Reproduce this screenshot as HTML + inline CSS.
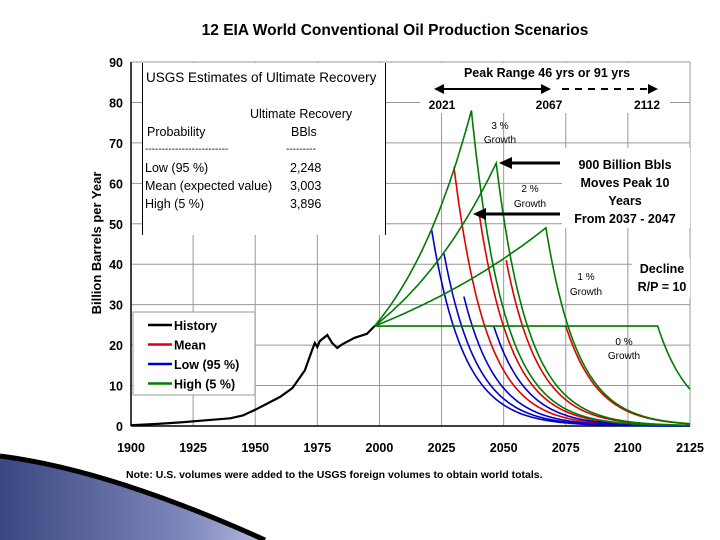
<!DOCTYPE html>
<html><head><meta charset="utf-8"><style>
body{margin:0;background:#fff;width:720px;height:540px;overflow:hidden;font-family:"Liberation Sans",Arial,sans-serif}
svg{display:block}
</style></head><body>
<svg id="c" width="720" height="540">
<defs><linearGradient id="bg" x1="0" y1="0" x2="1" y2="0"><stop offset="0" stop-color="#3a4780"/><stop offset="0.7" stop-color="#7f87bd"/><stop offset="1" stop-color="#b5badb"/></linearGradient></defs>
<path d="M0,456 Q110,470 265,540 L0,540Z" fill="url(#bg)"/>
<path d="M0,456 Q110,470 265,540" fill="none" stroke="#000" stroke-width="5"/>
<text x="395" y="35" text-anchor="middle" font-weight="bold" font-size="15.5">12 EIA World Conventional Oil Production Scenarios</text>
<text transform="translate(101,243) rotate(-90)" text-anchor="middle" font-weight="bold" font-size="13">Billion Barrels per Year</text>
<text x="126" y="478" font-weight="bold" font-size="10.5">Note:  U.S. volumes were added to the USGS foreign volumes to obtain world totals.</text>
<g id="grid"></g>
<g id="series"></g>
<g id="annot"></g>
</svg>
<script>
const yTicks=[0,10,20,30,40,50,60,70,80,90];
const xTicks=[1900,1925,1950,1975,2000,2025,2050,2075,2100,2125];
const histYears=[1900,1910,1920,1930,1940,1945,1950,1955,1960,1965,1970,1973,1974,1975,1976,1979,1981,1983,1985,1990,1995,1998];
const histValues=[0.2,0.5,0.9,1.4,1.9,2.6,4,5.6,7.2,9.4,13.8,19,20.5,19.5,21,22.5,20.5,19.3,20.2,21.8,22.8,24.7];
const baseYear=1998, baseValue=24.7;
const growthRates=[3,2,1,0];
const highPeakYears=[2037,2047,2067,2112];
const highPeakValues=[78,65,49,24.7];
const meanPeakYears=[2030,2040,2051,2075];
const meanPeakValues=[64,53,41,24.7];
const lowPeakYears=[2021,2026,2034,2046];
const lowPeakValues=[48.5,42.6,32,24.7];
const declineTau=13;
const X0=131,X1=690,Y0=426,Y1=62;
const xs=y=>X0+(y-1900)/(2125-1900)*(X1-X0);
const ys=v=>Y0-v/90*(Y0-Y1);
const NS='http://www.w3.org/2000/svg';
function mk(tag,attrs,parent){const e=document.createElementNS(NS,tag);for(const k in attrs)e.setAttribute(k,attrs[k]);parent.appendChild(e);return e;}
const grid=document.getElementById('grid'),ser=document.getElementById('series'),an=document.getElementById('annot');
yTicks.forEach(v=>{
 const l=mk('line',{x1:X0,x2:X1,y1:ys(v),y2:ys(v),stroke:'#999','stroke-width':1},grid);
 
 
 const t=mk('text',{x:X0-8,y:ys(v)+5,'text-anchor':'end','font-size':'12.5','font-weight':'bold'},grid);t.textContent=v;
 
 
});
xTicks.forEach(v=>{
 const l=mk('line',{x1:xs(v),x2:xs(v),y1:Y1,y2:Y0,stroke:'#999','stroke-width':1},grid);
 
 
 const t=mk('text',{x:xs(v),y:Y0+26,'text-anchor':'middle','font-size':'12.5','font-weight':'bold'},grid);t.textContent=v;
 
 
});
mk('line',{x1:X0,x2:X1,y1:Y0,y2:Y0,stroke:'#000','stroke-width':1.5},grid);
mk('line',{x1:X0,x2:X0,y1:Y1,y2:Y0,stroke:'#000','stroke-width':1.5},grid);
const b1=mk('rect',{x:142,y:63,width:243,height:172,fill:'#fff'},grid);


mk('line',{x1:142.5,x2:142.5,y1:63,y2:235,stroke:'#000'},grid);
mk('line',{x1:385.5,x2:385.5,y1:63,y2:235,stroke:'#000'},grid);
const b2=mk('rect',{x:562,y:148,width:128,height:80,fill:'#fff'},grid);


mk('rect',{x:420,y:63,width:250,height:50,fill:'#fff'},grid);
mk('rect',{x:632,y:258,width:58,height:40,fill:'#fff'},grid);
function scen(i,py,pv,color,full){
 const pts=[];
 const g=Math.log(pv/baseValue)/Math.max(py-baseYear,1);
 const start=full?baseYear:py;
 for(let y=start;y<=py;y+=1)pts.push([y,baseValue*Math.exp(g*(y-baseYear))]);
 pts.push([py,pv]);
 for(let y=py+0.5;y<=2125;y+=0.5)pts.push([y,pv*Math.exp(-(y-py)/declineTau)]);
 return mk('polyline',{points:pts.map(q=>xs(q[0]).toFixed(1)+','+ys(q[1]).toFixed(1)).join(' '),fill:'none',stroke:color,'stroke-width':1.6},ser);
}
growthRates.forEach((r,i)=>{
 const a=scen(i,lowPeakYears[i],lowPeakValues[i],'#0000cc',false);
 
 
 const b=scen(i,meanPeakYears[i],meanPeakValues[i],'#e00000',false);
 
 
});
growthRates.forEach((r,i)=>{
 const c=scen(i,highPeakYears[i],highPeakValues[i],'#007a00',true);
 
 
});
const h=mk('polyline',{points:histYears.map((y,i)=>xs(y).toFixed(1)+','+ys(histValues[i]).toFixed(1)).join(' '),fill:'none',stroke:'#000','stroke-width':2.2},ser);


function txt(x,y,s,size,bold,anchor,name){const t=mk('text',{x:x,y:y,'font-size':size,'font-weight':bold?'bold':'normal','text-anchor':anchor||'start'},an);t.textContent=s;
 
 return t;}
txt(146,82,'USGS Estimates of Ultimate Recovery',13.5,false,'start','usgs-title');
txt(250,118,'Ultimate Recovery',12.5,false,'start','col-header');
txt(147,136,'Probability',12.5,false,'start','col-header');
txt(291,136,'BBls',12.5,false,'start','col-header');
txt(145,152,'-------------------------',10,false,'start','divider');
txt(286,152,'---------',10,false,'start','divider');
const rows=[['Low (95 %)','2,248'],['Mean (expected value)','3,003'],['High (5 %)','3,896']];
rows.forEach((r,i)=>{txt(145,172+i*18,r[0],12.5,false,'start','table-row');txt(290,172+i*18,r[1],12.5,false,'start','table-value');});
txt(547,77,'Peak Range 46 yrs or 91 yrs',12.5,true,'middle','peak-range-label');
txt(442,109,'2021',12,true,'middle','peak-2021');txt(549,109,'2067',12,true,'middle','peak-2067');txt(647,109,'2112',12,true,'middle','peak-2112');
mk('line',{x1:440,x2:545,y1:89,y2:89,stroke:'#000','stroke-width':2},an);
mk('path',{d:'M434,89 l10,-5 v10z M551,89 l-10,-5 v10z M658,89 l-10,-5 v10z'},an);
mk('line',{x1:562,x2:650,y1:89,y2:89,stroke:'#000','stroke-width':2,'stroke-dasharray':'7,6'},an);
txt(500,129,'3 %',10,false,'middle','growth-label');txt(500,143,'Growth',10,false,'middle','growth-label');
txt(530,192,'2 %',10,false,'middle','growth-label');txt(530,207,'Growth',10,false,'middle','growth-label');
txt(586,280,'1 %',10,false,'middle','growth-label');txt(586,295,'Growth',10,false,'middle','growth-label');
txt(624,345,'0 %',10,false,'middle','growth-label');txt(624,359,'Growth',10,false,'middle','growth-label');
['900 Billion Bbls','Moves Peak 10','Years','From 2037 - 2047'].forEach((s,i)=>txt(625,169+i*18,s,12.5,true,'middle','annotation-text'));
txt(662,273,'Decline',12.5,true,'middle','decline-label');txt(662,291,'R/P = 10',12.5,true,'middle','decline-label');
mk('line',{x1:510,x2:560,y1:163,y2:163,stroke:'#000','stroke-width':3},an);
mk('path',{d:'M499,163 l13,-6 v12z M473,214 l13,-6 v12z'},an);
mk('line',{x1:484,x2:560,y1:214,y2:214,stroke:'#000','stroke-width':3},an);
const lg=mk('rect',{x:133,y:312,width:122,height:83,fill:'#fff',stroke:'#999'},an);


[['History','#000'],['Mean','#e00000'],['Low (95 %)','#0000cc'],['High (5 %)','#007a00']].forEach((e,i)=>{
 const y=325+i*19.5;
 const l=mk('line',{x1:148,x2:172,y1:y,y2:y,stroke:e[1],'stroke-width':2.5},an);
 
 
 txt(174,y+5,e[0],12.5,true,'start','legend-entry');
});
</script>
</body></html>
